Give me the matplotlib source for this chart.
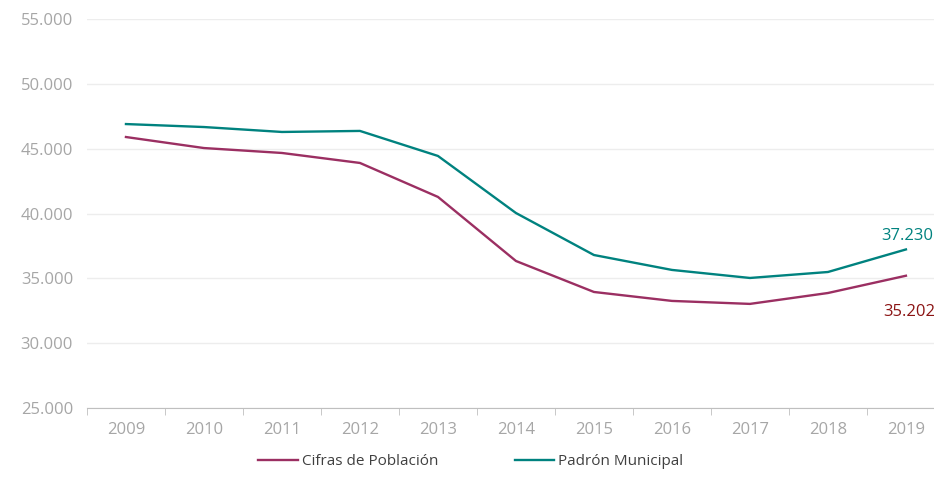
import numpy as np
import matplotlib.pyplot as plt
from matplotlib.ticker import FuncFormatter

# ============================== Data ============================== #
years = ['2009', '2010', '2011', '2012', '2013', '2014',
         '2015', '2016', '2017', '2018', '2019']
cifras = [45900, 45050, 44670, 43900, 41280, 36340,
          33950, 33260, 33030, 33870, 35202]
padron = [46900, 46670, 46290, 46370, 44440, 40040,
          36800, 35650, 35030, 35490, 37230]

COL_CIFRAS = '#9B2F62'
COL_PADRON = '#00827F'
GREY = '#A6A6A6'

plt.rcParams['font.family'] = ['Open Sans', 'DejaVu Sans']

fig = plt.figure(figsize=(9.34, 4.78), dpi=100)
ax = fig.add_axes([0.0931, 0.1464, 0.9186, 0.8138])

x = np.arange(len(years))
ax.plot(x, cifras, color=COL_CIFRAS, lw=1.7, label='Cifras de Población')
ax.plot(x, padron, color=COL_PADRON, lw=1.7, label='Padrón Municipal')

ax.set_xlim(-0.5, len(years) - 0.5)
ax.set_ylim(25000, 55000)
ax.set_yticks(np.arange(25000, 55001, 5000))
ax.yaxis.set_major_formatter(FuncFormatter(lambda v, p: f'{int(v):,}'.replace(',', '.')))
ax.set_xticks(x)
ax.set_xticklabels(years)
ax.set_xticks(np.arange(-0.5, len(years), 1), minor=True)

ax.grid(axis='y', color='#EDEDED', lw=1)
ax.set_axisbelow(True)
for s in ['top', 'right', 'left']:
    ax.spines[s].set_visible(False)
ax.spines['bottom'].set_color('#BFBFBF')

ax.tick_params(axis='y', length=0, pad=10, labelsize=12, labelcolor=GREY)
ax.tick_params(axis='x', which='major', length=0, pad=10, labelsize=12, labelcolor=GREY)
ax.tick_params(axis='x', which='minor', length=5, color='#BFBFBF')

# end labels
ax.annotate(f'{padron[-1]:,}'.replace(',', '.'), (x[-1], padron[-1]),
            xytext=(-18, 4), textcoords='offset points', color=COL_PADRON,
            fontsize=12, ha='left', va='bottom')
ax.annotate(f'{cifras[-1]:,}'.replace(',', '.'), (x[-1], cifras[-1]),
            xytext=(-16, -20), textcoords='offset points', color='#8B1414',
            fontsize=12, ha='left', va='top')

fig.legend(loc='lower left', bbox_to_anchor=(0.262, -0.01), ncol=2,
           frameon=False, fontsize=11, handlelength=2.6, columnspacing=5.0,
           labelcolor='#404040', handletextpad=0.25)

fig.savefig('out.png', dpi=100)
